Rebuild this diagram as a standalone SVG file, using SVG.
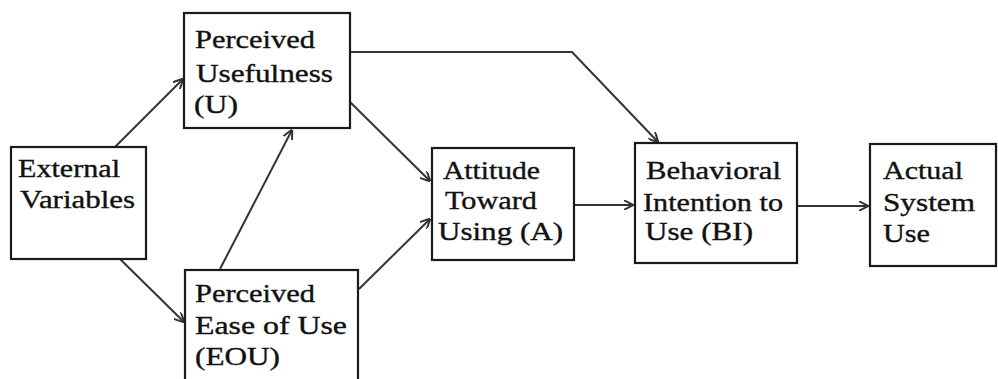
<svg xmlns="http://www.w3.org/2000/svg" width="998" height="379" viewBox="0 0 998 379">
  <style>
    .box { fill: #ffffff; stroke: #1a1a1a; stroke-width: 2.2; }
    .lbl { font-family: "Liberation Serif", "DejaVu Serif", serif; font-size: 25px; fill: #111111; stroke: #111111; stroke-width: 0.35; }
    .edge { fill: none; stroke: #333333; stroke-width: 2; }
  </style>
  <defs>
    <marker id="arrow" viewBox="0 0 10 10" refX="9.5" refY="5" markerWidth="5" markerHeight="5" orient="auto" markerUnits="strokeWidth">
      <path d="M0,0 L10,5 L0,10" fill="none" stroke="#333333" stroke-width="2"/>
    </marker>
  </defs>
  <rect width="998" height="379" fill="#ffffff"/>

  <!-- connectors -->
  <g id="connectors">
    <line class="edge" x1="115" y1="147" x2="183" y2="79" marker-end="url(#arrow)"/>
    <line class="edge" x1="120" y1="259" x2="184" y2="322" marker-end="url(#arrow)"/>
    <line class="edge" x1="220" y1="269" x2="292" y2="130" marker-end="url(#arrow)"/>
    <line class="edge" x1="350" y1="102" x2="430" y2="181" marker-end="url(#arrow)"/>
    <line class="edge" x1="359" y1="289" x2="430" y2="219" marker-end="url(#arrow)"/>
    <polyline class="edge" points="350,52 572,52 658,142" marker-end="url(#arrow)"/>
    <line class="edge" x1="574" y1="205" x2="633" y2="205" marker-end="url(#arrow)"/>
    <line class="edge" x1="797" y1="206" x2="868" y2="206" marker-end="url(#arrow)"/>
  </g>

  <g id="external-variables">
    <rect class="box" x="11" y="147" width="135" height="112"/>
    <text class="lbl" x="18" y="177" textLength="102" lengthAdjust="spacingAndGlyphs">External</text>
    <text class="lbl" x="20" y="208" textLength="115" lengthAdjust="spacingAndGlyphs">Variables</text>
  </g>

  <g id="perceived-usefulness">
    <rect class="box" x="184" y="13" width="166" height="115"/>
    <text class="lbl" x="195" y="48" textLength="120" lengthAdjust="spacingAndGlyphs">Perceived</text>
    <text class="lbl" x="196" y="82" textLength="137" lengthAdjust="spacingAndGlyphs">Usefulness</text>
    <text class="lbl" x="194" y="113" textLength="44" lengthAdjust="spacingAndGlyphs">(U)</text>
  </g>

  <g id="perceived-ease-of-use">
    <rect class="box" x="185" y="270" width="173" height="120"/>
    <text class="lbl" x="195" y="302" textLength="120" lengthAdjust="spacingAndGlyphs">Perceived</text>
    <text class="lbl" x="195" y="334" textLength="152" lengthAdjust="spacingAndGlyphs">Ease of Use</text>
    <text class="lbl" x="195" y="365" textLength="85" lengthAdjust="spacingAndGlyphs">(EOU)</text>
  </g>

  <g id="attitude">
    <rect class="box" x="432" y="148" width="142" height="112"/>
    <text class="lbl" x="443" y="179" textLength="97" lengthAdjust="spacingAndGlyphs">Attitude</text>
    <text class="lbl" x="445" y="209" textLength="92" lengthAdjust="spacingAndGlyphs">Toward</text>
    <text class="lbl" x="438" y="240" textLength="125" lengthAdjust="spacingAndGlyphs">Using (A)</text>
  </g>

  <g id="behavioral-intention">
    <rect class="box" x="635" y="143" width="162" height="120"/>
    <text class="lbl" x="646" y="179" textLength="135" lengthAdjust="spacingAndGlyphs">Behavioral</text>
    <text class="lbl" x="643" y="211" textLength="140" lengthAdjust="spacingAndGlyphs">Intention to</text>
    <text class="lbl" x="645" y="240" textLength="108" lengthAdjust="spacingAndGlyphs">Use (BI)</text>
  </g>

  <g id="actual-system-use">
    <rect class="box" x="870" y="144" width="126" height="122"/>
    <text class="lbl" x="883" y="179" textLength="80" lengthAdjust="spacingAndGlyphs">Actual</text>
    <text class="lbl" x="883" y="211" textLength="92" lengthAdjust="spacingAndGlyphs">System</text>
    <text class="lbl" x="883" y="242" textLength="47" lengthAdjust="spacingAndGlyphs">Use</text>
  </g>
</svg>
